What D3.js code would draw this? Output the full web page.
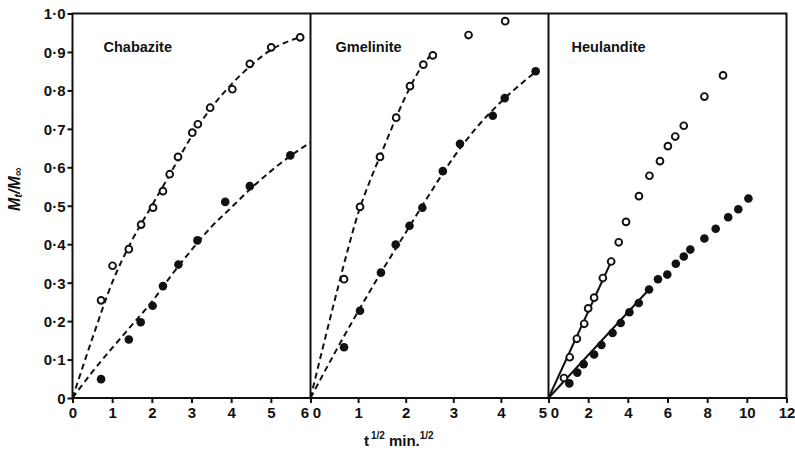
<!DOCTYPE html>
<html>
<head>
<meta charset="utf-8">
<script src="https://cdn.jsdelivr.net/npm/d3@7"></script>
<style>
  html, body { margin: 0; padding: 0; background: #fff; }
  svg { display: block; font-family: "Liberation Sans", Arial, sans-serif; }
</style>
</head>
<body>
<svg id="chart" width="795" height="454"></svg>
<script>
// Fractional uptake Mt/M∞ against t^1/2 for three zeolites
const panelNames = ["Chabazite", "Gmelinite", "Heulandite"];
const panelXMax = [6, 5, 12];
const panelXTicks = [[0, 1, 2, 3, 4, 5, 6], [0, 1, 2, 3, 4, 5], [0, 2, 4, 6, 8, 10, 12]];
const yTicks = [0, 0.1, 0.2, 0.3, 0.4, 0.5, 0.6, 0.7, 0.8, 0.9, 1.0];

// Chabazite
const chabOpenX = [0.72, 1.01, 1.42, 1.73, 2.03, 2.28, 2.45, 2.66, 3.02, 3.16, 3.47, 4.03, 4.47, 5.01, 5.74];
const chabOpenY = [0.254, 0.344, 0.387, 0.451, 0.495, 0.538, 0.582, 0.627, 0.690, 0.712, 0.755, 0.803, 0.869, 0.912, 0.938];
const chabFilledX = [0.72, 1.42, 1.72, 2.02, 2.28, 2.67, 3.15, 3.85, 4.47, 5.49];
const chabFilledY = [0.049, 0.152, 0.197, 0.240, 0.291, 0.347, 0.410, 0.510, 0.551, 0.631];
const chabOpenFitX = [0, 0.5, 1, 1.5, 2, 2.5, 3, 3.5, 4, 4.5, 5, 5.5, 5.8];
const chabOpenFitY = [0, 0.155, 0.3, 0.41, 0.5, 0.59, 0.68, 0.755, 0.815, 0.865, 0.905, 0.93, 0.94];
const chabFilledFitX = [0, 0.5, 1, 1.5, 2, 2.5, 3, 3.5, 4, 4.5, 5, 5.5, 6];
const chabFilledFitY = [0, 0.068, 0.13, 0.19, 0.25, 0.32, 0.385, 0.445, 0.495, 0.545, 0.59, 0.63, 0.665];

// Gmelinite
const gmelOpenX = [0.705, 1.04, 1.46, 1.80, 2.09, 2.37, 2.57, 3.32, 4.09];
const gmelOpenY = [0.309, 0.497, 0.627, 0.729, 0.811, 0.867, 0.891, 0.944, 0.980];
const gmelFilledX = [0.705, 1.04, 1.48, 1.79, 2.08, 2.35, 2.78, 3.14, 3.83, 4.08, 4.73];
const gmelFilledY = [0.132, 0.227, 0.326, 0.399, 0.448, 0.495, 0.590, 0.661, 0.734, 0.780, 0.850];
const gmelOpenFitX = [0, 0.5, 0.75, 1, 1.25, 1.5, 2, 2.3, 2.55];
const gmelOpenFitY = [0, 0.25, 0.37, 0.48, 0.565, 0.64, 0.785, 0.855, 0.895];
const gmelFilledFitX = [0, 0.5, 1, 1.5, 2, 2.5, 3, 3.5, 4, 4.5, 4.8];
const gmelFilledFitY = [0, 0.115, 0.225, 0.33, 0.43, 0.53, 0.625, 0.705, 0.77, 0.825, 0.855];

// Heulandite
const heulOpenX = [0.78, 1.07, 1.43, 1.80, 2.00, 2.30, 2.74, 3.16, 3.54, 3.91, 4.56, 5.09, 5.62, 6.02, 6.39, 6.82, 7.86, 8.80];
const heulOpenY = [0.052, 0.106, 0.154, 0.193, 0.233, 0.261, 0.312, 0.355, 0.405, 0.458, 0.525, 0.578, 0.616, 0.655, 0.680, 0.708, 0.784, 0.839];
const heulFilledX = [1.05, 1.45, 1.77, 2.30, 2.67, 3.23, 3.64, 4.08, 4.55, 5.07, 5.52, 5.99, 6.42, 6.82, 7.15, 7.86, 8.43, 9.06, 9.57, 10.08];
const heulFilledY = [0.038, 0.066, 0.088, 0.113, 0.138, 0.169, 0.195, 0.223, 0.247, 0.282, 0.309, 0.321, 0.349, 0.368, 0.386, 0.415, 0.440, 0.470, 0.491, 0.519];
const heulOpenLineX = [0, 3.18];
const heulOpenLineY = [0, 0.357];
const heulFilledLineX = [0, 5.1];
const heulFilledLineY = [0, 0.284];

const zip = (xs, ys) => xs.map((x, i) => [x, ys[i]]);

const panels = [
  {
    open: zip(chabOpenX, chabOpenY), filled: zip(chabFilledX, chabFilledY),
    fits: [zip(chabOpenFitX, chabOpenFitY), zip(chabFilledFitX, chabFilledFitY)], dashed: true
  },
  {
    open: zip(gmelOpenX, gmelOpenY), filled: zip(gmelFilledX, gmelFilledY),
    fits: [zip(gmelOpenFitX, gmelOpenFitY), zip(gmelFilledFitX, gmelFilledFitY)], dashed: true
  },
  {
    open: zip(heulOpenX, heulOpenY), filled: zip(heulFilledX, heulFilledY),
    fits: [zip(heulOpenLineX, heulOpenLineY), zip(heulFilledLineX, heulFilledLineY)], dashed: false
  }
];

const svg = d3.select("#chart");
const plotTop = 13.5, plotBottom = 398;
const edges = [72.5, 310.5, 548.5, 786.5];
const ink = "#111";
const fmt = v => v === 0 ? "0" : d3.format(".1f")(v).replace(".", "·");

const y = d3.scaleLinear().domain([0, 1]).range([plotBottom, plotTop]);

// y axis
const yAxis = svg.append("g")
  .attr("transform", `translate(${edges[0]},0)`)
  .call(d3.axisLeft(y).tickValues(yTicks).tickSize(5).tickPadding(2).tickFormat(fmt));
yAxis.select(".domain").remove();
yAxis.selectAll("line").attr("stroke", ink).attr("stroke-width", 2);
yAxis.selectAll("text")
  .attr("fill", ink).attr("font-size", 15).attr("font-weight", 700).attr("dy", "0.36em");

panels.forEach((p, i) => {
  const x = d3.scaleLinear().domain([0, panelXMax[i]]).range([edges[i], edges[i + 1]]);
  const g = svg.append("g");

  const ax = g.append("g")
    .attr("transform", `translate(0,${plotBottom})`)
    .call(d3.axisBottom(x).tickValues(panelXTicks[i]).tickSize(5).tickPadding(4).tickFormat(d3.format("d")));
  ax.select(".domain").remove();
  ax.selectAll("line").attr("stroke", ink).attr("stroke-width", 2);
  ax.selectAll("text").attr("fill", ink).attr("font-size", 15).attr("font-weight", 700)
    .attr("dx", d => {
      if (d === 0 && i > 0) return 6;
      if (d === panelXMax[i] && i < 2) return -6;
      return 0;
    });

  // fitted curves
  const line = d3.line().x(d => x(d[0])).y(d => y(d[1]))
    .curve(p.dashed ? d3.curveMonotoneX : d3.curveLinear);
  p.fits.forEach(f => {
    g.append("path").attr("d", line(f)).attr("fill", "none")
      .attr("stroke", ink).attr("stroke-width", 2)
      .attr("stroke-dasharray", p.dashed ? "6,4" : null);
  });

  // measured points
  g.selectAll("circle.open").data(p.open).join("circle").attr("class", "open")
    .attr("cx", d => x(d[0])).attr("cy", d => y(d[1])).attr("r", 3.4)
    .attr("fill", "#fff").attr("stroke", ink).attr("stroke-width", 1.9);
  g.selectAll("circle.filled").data(p.filled).join("circle").attr("class", "filled")
    .attr("cx", d => x(d[0])).attr("cy", d => y(d[1])).attr("r", 4.3)
    .attr("fill", ink);

  g.append("text").attr("x", edges[i] + [31, 25, 23][i]).attr("y", 52)
    .attr("font-size", 14.5).attr("font-weight", 700).attr("fill", ink)
    .text(panelNames[i]);
});

// frame and panel dividers
svg.append("rect").attr("x", edges[0]).attr("y", plotTop)
  .attr("width", edges[3] - edges[0]).attr("height", plotBottom - plotTop)
  .attr("fill", "none").attr("stroke", ink).attr("stroke-width", 2);
[edges[1], edges[2]].forEach(e => {
  svg.append("line").attr("x1", e).attr("x2", e).attr("y1", plotTop).attr("y2", plotBottom)
    .attr("stroke", ink).attr("stroke-width", 2);
});

// x axis title
const xt = svg.append("text").attr("x", 364).attr("y", 446)
  .attr("font-size", 15).attr("font-weight", 700).attr("fill", ink);
xt.append("tspan").text("t");
xt.append("tspan").attr("font-size", 10).attr("dy", -7).attr("dx", 2).text("1/2");
xt.append("tspan").attr("dy", 7).attr("dx", 4).text("min.");
xt.append("tspan").attr("font-size", 10).attr("dy", -7).text("1/2");

// y axis title
const yt = svg.append("text").attr("transform", "translate(20,211) rotate(-90)")
  .attr("font-size", 16).attr("font-weight", 700).attr("font-style", "italic").attr("fill", ink);
yt.append("tspan").text("M");
yt.append("tspan").attr("font-size", 11).attr("dy", 2).text("t");
yt.append("tspan").attr("dy", -2).text("/");
yt.append("tspan").text("M");
yt.append("tspan").attr("font-size", 12).attr("dy", 2).text("∞");
</script>
</body>
</html>
